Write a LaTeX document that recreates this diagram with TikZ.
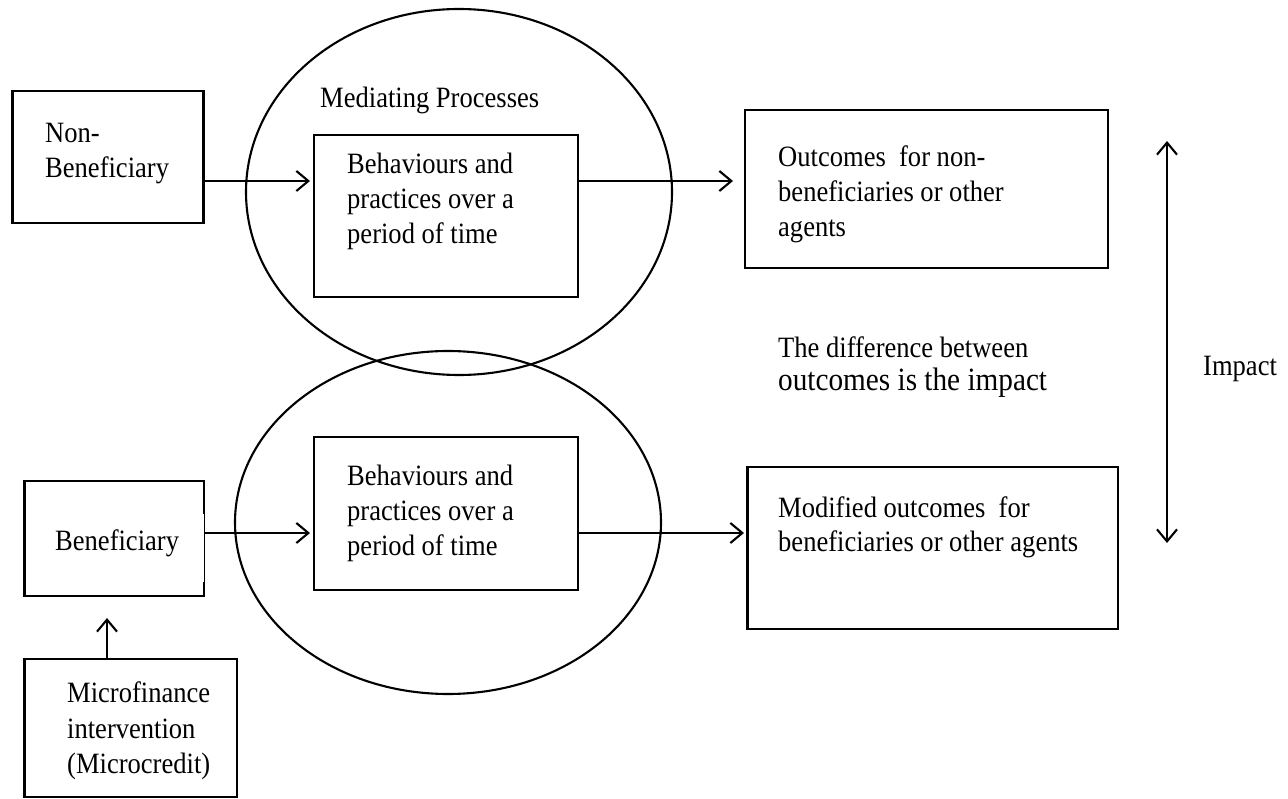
\documentclass[tikz,border=0pt]{standalone}
\usepackage{fontspec}
\setmainfont{Liberation Serif}[FakeStretch=0.9]
\usetikzlibrary{arrows.meta,shapes.geometric,calc}
\begin{document}
\begin{tikzpicture}[x=1pt,y=-1pt,
  box/.style={draw, line width=2.1pt, inner sep=0pt, outer sep=0pt},
  oval/.style={draw, ellipse, line width=2.1pt, inner sep=0pt, outer sep=0pt},
  txt/.style={anchor=base west, inner sep=0pt, font=\fontsize{29.5}{35}\selectfont},
  bigtxt/.style={anchor=base west, inner sep=0pt, font=\fontsize{32.5}{35}\selectfont},
  conn/.style={line width=2.1pt, -{Straight Barb[length=12pt,width=20pt]}},
  dconn/.style={line width=2.1pt, {Straight Barb[length=12pt,width=20pt]}-{Straight Barb[length=12pt,width=20pt]}},
]
\useasboundingbox[fill=white] (0,0) rectangle (1288,799);

% ellipses
\node[oval, minimum width=426pt, minimum height=366pt] (e1) at (459,192) {};
\node[oval, minimum width=426pt, minimum height=343pt] (e2) at (448,522.5) {};

% boxes
\node[box, minimum width=191pt, minimum height=132pt] (nb) at (108,157) {};
\node[box, minimum width=264pt, minimum height=162pt] (ti) at (446,216) {};
\node[box, minimum width=363pt, minimum height=158pt] (to) at (926.5,189) {};
\node[box, minimum width=179.5pt, minimum height=115pt] (bb) at (114.25,538.5) {};
\node[box, minimum width=264pt, minimum height=153pt] (bi) at (446,513.5) {};
\node[box, minimum width=370.5pt, minimum height=162pt] (mo) at (932.75,548) {};
\node[box, minimum width=212.5pt, minimum height=138pt] (mf) at (130.75,728) {};

% thin part of the Beneficiary box's right edge
\fill[white] ($(bb.north east)+(-2,33)$) rectangle ($(bb.north east)+(2,101)$);
\draw[line width=0.8pt] ($(bb.north east)+(0,33)$) -- ($(bb.north east)+(0,101)$);

% texts
\node[txt] (t1) at (45,143) {Non-};
\node[txt] (t2) at (45,178) {Beneficiary};
\node[txt] (t3) at (320,108) {Mediating Processes};
\node[txt] (t4) at (347,174) {Behaviours and};
\node[txt] (t5) at (347,209) {practices over a};
\node[txt] (t6) at (347,244) {period of time};
\node[txt] (t7) at (778,167) {Outcomes\ \ for non-};
\node[txt] (t8) at (778,202) {beneficiaries or other};
\node[txt] (t9) at (778,237) {agents};
\node[txt] (t10) at (778,358) {The difference between};
\node[bigtxt] (t11) at (778,391) {outcomes is the impact};
\node[txt] (t12) at (1203,376) {Impact};
\node[txt] (t13) at (347,485) {Behaviours and};
\node[txt] (t14) at (347,520) {practices over a};
\node[txt] (t15) at (347,555) {period of time};
\node[txt] (t16) at (55,550) {Beneficiary};
\node[txt] (t17) at (778,517) {Modified outcomes\ \ for};
\node[txt] (t18) at (778,551) {beneficiaries or other agents};
\node[txt] (t19) at (67,702) {Microfinance};
\node[txt] (t20) at (67,738) {intervention};
\node[txt] (t21) at (67,773) {(Microcredit)};

% connectors
\coordinate (r1) at (0,181);
\coordinate (r2) at (0,533);
\coordinate (c1) at (107,0);
\draw[conn, shorten >=4pt] (nb.east |- r1) -- (ti.west |- r1);
\draw[conn, shorten >=12pt] (ti.east |- r1) -- (to.west |- r1);
\draw[conn, shorten >=4pt] (bb.east |- r2) -- (bi.west |- r2);
\draw[conn, shorten >=3.5pt] (bi.east |- r2) -- (mo.west |- r2);
\draw[conn, shorten >=22pt] (mf.north -| c1) -- (bb.south -| c1);
\coordinate (i1) at (1167,141);
\coordinate (i2) at (1167,543);
\draw[dconn] (i1) -- (i2);
\end{tikzpicture}
\end{document}
